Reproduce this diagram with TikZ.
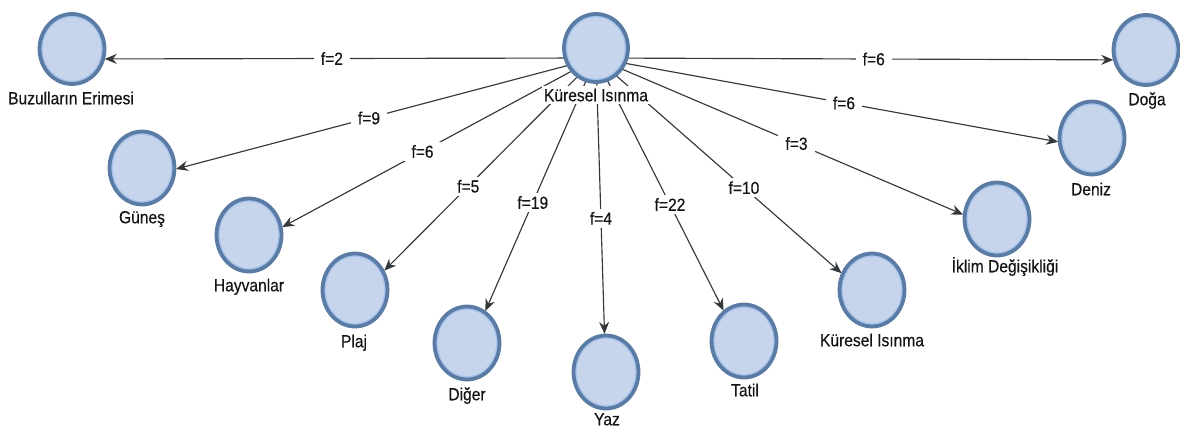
\documentclass[tikz,border=0pt]{standalone}
\usepackage{fontspec}
\usepackage{graphicx}
\setmainfont{Liberation Sans}
\newfontfamily\lblfont{Liberation Sans}[FakeBold=0.35]
\usetikzlibrary{shapes.geometric,arrows.meta,intersections,backgrounds}

\definecolor{vfill}{HTML}{C6D5EC}
\definecolor{vring}{HTML}{A6C3EC}
\definecolor{vline}{HTML}{5A7BA3}
\definecolor{ecol}{HTML}{35383B}
\definecolor{tcol}{HTML}{141414}

% labels are set slightly taller than the plain font
\newcommand{\tallbox}[1]{\scalebox{1}[1.12]{#1}}

\tikzset{
  vert/.style 2 args={ellipse, inner sep=0pt, minimum width=#1, minimum height=#2,
    fill=vring, draw=vline, line width=3.8pt,
    path picture={\fill[vfill] (path picture bounding box.center)
      ellipse [x radius=#1/2-3.4pt, y radius=#2/2-3.4pt];}},
  vnode/.style={vert={65pt}{73pt}},
  vlabel/.style={font=\lblfont\fontsize{15.6}{18}\selectfont, text=tcol, inner sep=1.5pt,
    text height=12.5pt, text depth=0pt},
  hublabel/.style={vlabel, fill=white, inner xsep=2pt, inner ysep=3pt},
  elabel/.style={vlabel, fill=white, inner xsep=7pt, inner ysep=3pt},
  edge/.style={draw=ecol, line width=1.15pt, shorten >=1.6pt,
    -{Stealth[length=12pt, width=10pt, inset=4pt]}},
}

\begin{document}
\begin{tikzpicture}[x=1pt, y=-1pt]
\useasboundingbox (0,0) rectangle (1180,431);

% vertices
\node[vert={64pt}{68pt}, name path=c-hub] (hub) at (596,48) {};
\node[vert={65pt}{70pt}, name path=c-buz] (buz) at (72,49) {};
\node[vert={65pt}{70pt}, name path=c-doga] (doga) at (1146,50) {};
\node[vnode, name path=c-gunes] (gunes) at (142,168) {};
\node[vnode, name path=c-hayv] (hayv) at (249,235) {};
\node[vnode, name path=c-plaj] (plaj) at (355,290) {};
\node[vnode, name path=c-diger] (diger) at (467,343) {};
\node[vnode, name path=c-yaz] (yaz) at (606,372) {};
\node[vnode, name path=c-tatil] (tatil) at (744,341) {};
\node[vnode, name path=c-kur] (kur) at (872,290) {};
\node[vnode, name path=c-iklim] (iklim) at (997,219) {};
\node[vnode, name path=c-deniz] (deniz) at (1092,138) {};

% attachment points of the connectors
\foreach \v in {hub,buz,doga,gunes,hayv,plaj,diger,yaz,tatil,kur,iklim,deniz}
  \coordinate (\v-p) at ([yshift=-10pt]\v.center);

% vertex captions
\node[hublabel] (hub-l) at (596,95) {\tallbox{Küresel Isınma}};
\node[vlabel] (buz-l) at (71,98) {\tallbox{Buzulların Erimesi}};
\node[vlabel] (doga-l) at (1147,99) {\tallbox{Doğa}};
\node[vlabel] (gunes-l) at (142,217) {\tallbox{Güneş}};
\node[vlabel] (hayv-l) at (249,285) {\tallbox{Hayvanlar}};
\node[vlabel] (plaj-l) at (354,341) {\tallbox{Plaj}};
\node[vlabel] (diger-l) at (467,394) {\tallbox{Diğer}};
\node[vlabel] (yaz-l) at (607,419) {\tallbox{Yaz}};
\node[vlabel] (tatil-l) at (745,390) {\tallbox{Tatil}};
\node[vlabel] (kur-l) at (872,340) {\tallbox{Küresel Isınma}};
\node[vlabel] (iklim-l) at (1005,266) {\tallbox{İklim Değişikliği}};
\node[vlabel] (deniz-l) at (1091,189) {\tallbox{Deniz}};

% connectors from the hub, ending on each target's border
\begin{scope}[on background layer]
\foreach \v in {buz,doga,gunes,hayv,plaj,diger,yaz,tatil,kur,iklim,deniz}{
  \path[name path=ray] (hub-p) -- (\v-p);
  \draw[edge, name intersections={of=ray and c-\v, by=\v-x}] (hub-p) -- (\v-x);
}
\end{scope}

% frequency labels on the connectors
\foreach \v/\p/\f in {buz/0.504/2, doga/0.505/6, gunes/0.5/9, hayv/0.5/6,
    plaj/0.53/5, diger/0.49/19, yaz/0.495/4, tatil/0.5/22, kur/0.536/10,
    iklim/0.5/3, deniz/0.5/6}
  \path (hub-p) -- node[elabel, pos=\p] (f-\v) {\tallbox{f=\f}} (\v-p);
\end{tikzpicture}
\end{document}
